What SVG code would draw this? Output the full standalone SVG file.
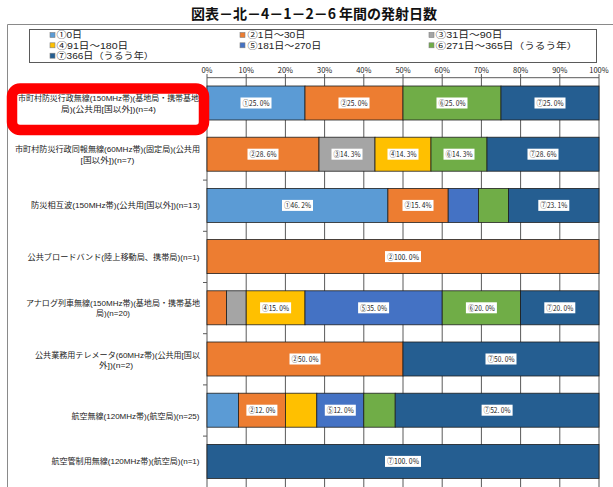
<svg xmlns="http://www.w3.org/2000/svg" width="613" height="487" viewBox="0 0 613 487">
<style>
text{font-family:"Noto Sans CJK JP","Noto Sans",sans-serif;fill:#222}
.title{font-size:14px;font-weight:bold;fill:#111}
.leg{font-family:"Liberation Sans","Noto Sans CJK JP",sans-serif;font-size:8.8px}
.ax{font-size:7.5px;text-anchor:middle}
.cat,.catr{font-family:"Liberation Sans","Noto Sans CJK JP",sans-serif;font-size:8px}
.cat{text-anchor:middle}
.catr{text-anchor:end}
.val{font-size:8px;text-anchor:middle}
.grid{stroke:#5a5a5a;stroke-width:1}
.seg{stroke:#1e1e1e;stroke-width:0.8}
.c1{fill:#5B9BD5}.c2{fill:#ED7D31}.c3{fill:#A5A5A5}.c4{fill:#FFC000}.c5{fill:#4472C4}.c6{fill:#70AD47}.c7{fill:#255E91}
.lb{fill:#fff}
.mk{stroke:#7f7f7f;stroke-width:0.6}
</style>
<rect width="613" height="487" fill="#fff"/>
<text class="title" x="314" y="19" text-anchor="middle">図表－北－4－1－2－6 年間の発射日数</text>
<path d="M7.5 487V24.5H613" fill="none" stroke="#8a8a8a" stroke-width="1"/>
<g id="legend">
<rect x="29.5" y="29.5" width="567" height="33" fill="#fff" stroke="#5a5a5a" stroke-width="1"/>
<rect class="mk c1" x="50" y="32.5" width="5" height="5"/><text class="leg" x="56.5" y="38.2" textLength="25.6" lengthAdjust="spacingAndGlyphs">①0日</text>
<rect class="mk c2" x="240" y="32.5" width="5" height="5"/><text class="leg" x="247.5" y="38.2" textLength="58" lengthAdjust="spacingAndGlyphs">②1日～30日</text>
<rect class="mk c3" x="429" y="32.5" width="5" height="5"/><text class="leg" x="435.5" y="38.2" textLength="67" lengthAdjust="spacingAndGlyphs">③31日～90日</text>
<rect class="mk c4" x="50" y="42.8" width="5" height="5"/><text class="leg" x="56.5" y="48.6" textLength="71.7" lengthAdjust="spacingAndGlyphs">④91日～180日</text>
<rect class="mk c5" x="240" y="42.8" width="5" height="5"/><text class="leg" x="247.5" y="48.6" textLength="73.7" lengthAdjust="spacingAndGlyphs">⑤181日～270日</text>
<rect class="mk c6" x="429" y="42.8" width="5" height="5"/><text class="leg" x="435.5" y="48.6" textLength="141.8" lengthAdjust="spacingAndGlyphs">⑥271日～365日（うるう年）</text>
<rect class="mk c7" x="50" y="53.2" width="5" height="5"/><text class="leg" x="56.5" y="59" textLength="97.3" lengthAdjust="spacingAndGlyphs">⑦366日（うるう年）</text>
</g>
<g id="axis">
<text class="ax" x="207" y="73">0%</text>
<text class="ax" x="246.2" y="73">10%</text>
<text class="ax" x="285.4" y="73">20%</text>
<text class="ax" x="324.6" y="73">30%</text>
<text class="ax" x="363.8" y="73">40%</text>
<text class="ax" x="403" y="73">50%</text>
<text class="ax" x="442.2" y="73">60%</text>
<text class="ax" x="481.4" y="73">70%</text>
<text class="ax" x="520.6" y="73">80%</text>
<text class="ax" x="559.8" y="73">90%</text>
<text class="ax" x="599" y="73">100%</text>
<path class="grid" fill="none" d="M207 74V487M246.2 74V487M285.4 74V487M324.6 74V487M363.8 74V487M403 74V487M442.2 74V487M481.4 74V487M520.6 74V487M559.8 74V487M599 74V487M207 77.7H599M203 128.9H207M203 180.1H207M203 231.3H207M203 282.5H207M203 333.7H207M203 384.9H207M203 436.1H207"/>
</g>
<g id="labels">
<text class="cat" x="108.5" y="101" textLength="181" lengthAdjust="spacingAndGlyphs">市町村防災行政無線(150MHz帯)(基地局・携帯基地</text>
<text class="cat" x="108.5" y="112" textLength="95" lengthAdjust="spacingAndGlyphs">局)(公共用[国以外])(n=4)</text>
<text class="cat" x="107.5" y="152" textLength="185" lengthAdjust="spacingAndGlyphs">市町村防災行政同報無線(60MHz帯)(固定局)(公共用</text>
<text class="cat" x="107.5" y="162.5" textLength="54" lengthAdjust="spacingAndGlyphs">[国以外])(n=7)</text>
<text class="catr" x="200" y="208" textLength="169" lengthAdjust="spacingAndGlyphs">防災相互波(150MHz帯)(公共用[国以外])(n=13)</text>
<text class="catr" x="199.5" y="259.5" textLength="172" lengthAdjust="spacingAndGlyphs">公共ブロードバンド(陸上移動局、携帯局)(n=1)</text>
<text class="cat" x="113" y="305.5" textLength="174" lengthAdjust="spacingAndGlyphs">アナログ列車無線(150MHz帯)(基地局・携帯基地</text>
<text class="cat" x="113" y="316" textLength="34" lengthAdjust="spacingAndGlyphs">局)(n=20)</text>
<text class="cat" x="117.5" y="357.5" textLength="165" lengthAdjust="spacingAndGlyphs">公共業務用テレメータ(60MHz帯)(公共用[国以</text>
<text class="cat" x="116" y="368" textLength="34" lengthAdjust="spacingAndGlyphs">外])(n=2)</text>
<text class="catr" x="199.5" y="419" textLength="128" lengthAdjust="spacingAndGlyphs">航空無線(120MHz帯)(航空局)(n=25)</text>
<text class="catr" x="199.5" y="463.5" textLength="148" lengthAdjust="spacingAndGlyphs">航空管制用無線(120MHz帯)(航空局)(n=1)</text>
</g>
<g id="row1">
<rect class="seg c1" x="207" y="86" width="98" height="34"/>
<rect class="seg c2" x="305" y="86" width="98" height="34"/>
<rect class="seg c6" x="403" y="86" width="98" height="34"/>
<rect class="seg c7" x="501" y="86" width="98" height="34"/>
<rect class="lb" x="240.5" y="97.5" width="31" height="11"/><text class="val" x="256" y="106" textLength="27" lengthAdjust="spacingAndGlyphs">①25. 0%</text>
<rect class="lb" x="338.5" y="97.5" width="31" height="11"/><text class="val" x="354" y="106" textLength="27" lengthAdjust="spacingAndGlyphs">②25. 0%</text>
<rect class="lb" x="436.5" y="97.5" width="31" height="11"/><text class="val" x="452" y="106" textLength="27" lengthAdjust="spacingAndGlyphs">⑥25. 0%</text>
<rect class="lb" x="534.5" y="97.5" width="31" height="11"/><text class="val" x="550" y="106" textLength="27" lengthAdjust="spacingAndGlyphs">⑦25. 0%</text>
</g>
<g id="row2">
<rect class="seg c2" x="207" y="137.2" width="112" height="34"/>
<rect class="seg c3" x="319" y="137.2" width="56" height="34"/>
<rect class="seg c4" x="375" y="137.2" width="56" height="34"/>
<rect class="seg c6" x="431" y="137.2" width="56" height="34"/>
<rect class="seg c7" x="487" y="137.2" width="112" height="34"/>
<rect class="lb" x="247.5" y="148.7" width="31" height="11"/><text class="val" x="263" y="157.2" textLength="27" lengthAdjust="spacingAndGlyphs">②28. 6%</text>
<rect class="lb" x="331.5" y="148.7" width="31" height="11"/><text class="val" x="347" y="157.2" textLength="27" lengthAdjust="spacingAndGlyphs">③14. 3%</text>
<rect class="lb" x="387.5" y="148.7" width="31" height="11"/><text class="val" x="403" y="157.2" textLength="27" lengthAdjust="spacingAndGlyphs">④14. 3%</text>
<rect class="lb" x="443.5" y="148.7" width="31" height="11"/><text class="val" x="459" y="157.2" textLength="27" lengthAdjust="spacingAndGlyphs">⑥14. 3%</text>
<rect class="lb" x="527.5" y="148.7" width="31" height="11"/><text class="val" x="543" y="157.2" textLength="27" lengthAdjust="spacingAndGlyphs">⑦28. 6%</text>
</g>
<g id="row3">
<rect class="seg c1" x="207" y="188.4" width="180.9" height="34"/>
<rect class="seg c2" x="387.9" y="188.4" width="60.3" height="34"/>
<rect class="seg c5" x="448.2" y="188.4" width="30.2" height="34"/>
<rect class="seg c6" x="478.4" y="188.4" width="30.1" height="34"/>
<rect class="seg c7" x="508.5" y="188.4" width="90.5" height="34"/>
<rect class="lb" x="282" y="199.9" width="31" height="11"/><text class="val" x="297.5" y="208.4" textLength="27" lengthAdjust="spacingAndGlyphs">①46. 2%</text>
<rect class="lb" x="402.5" y="199.9" width="31" height="11"/><text class="val" x="418" y="208.4" textLength="27" lengthAdjust="spacingAndGlyphs">②15. 4%</text>
<rect class="lb" x="538.3" y="199.9" width="31" height="11"/><text class="val" x="553.8" y="208.4" textLength="27" lengthAdjust="spacingAndGlyphs">⑦23. 1%</text>
</g>
<g id="row4">
<rect class="seg c2" x="207" y="239.6" width="392" height="34"/>
<rect class="lb" x="385" y="251.1" width="36" height="11"/><text class="val" x="403" y="259.6" textLength="32" lengthAdjust="spacingAndGlyphs">②100. 0%</text>
</g>
<g id="row5">
<rect class="seg c2" x="207" y="290.8" width="19.6" height="34"/>
<rect class="seg c3" x="226.6" y="290.8" width="19.6" height="34"/>
<rect class="seg c4" x="246.2" y="290.8" width="58.8" height="34"/>
<rect class="seg c5" x="305" y="290.8" width="137.2" height="34"/>
<rect class="seg c6" x="442.2" y="290.8" width="78.4" height="34"/>
<rect class="seg c7" x="520.6" y="290.8" width="78.4" height="34"/>
<rect class="lb" x="260.1" y="302.3" width="31" height="11"/><text class="val" x="275.6" y="310.8" textLength="27" lengthAdjust="spacingAndGlyphs">④15. 0%</text>
<rect class="lb" x="358.1" y="302.3" width="31" height="11"/><text class="val" x="373.6" y="310.8" textLength="27" lengthAdjust="spacingAndGlyphs">⑤35. 0%</text>
<rect class="lb" x="465.9" y="302.3" width="31" height="11"/><text class="val" x="481.4" y="310.8" textLength="27" lengthAdjust="spacingAndGlyphs">⑥20. 0%</text>
<rect class="lb" x="544.3" y="302.3" width="31" height="11"/><text class="val" x="559.8" y="310.8" textLength="27" lengthAdjust="spacingAndGlyphs">⑦20. 0%</text>
</g>
<g id="row6">
<rect class="seg c2" x="207" y="342" width="196" height="34"/>
<rect class="seg c7" x="403" y="342" width="196" height="34"/>
<rect class="lb" x="289.5" y="353.5" width="31" height="11"/><text class="val" x="305" y="362" textLength="27" lengthAdjust="spacingAndGlyphs">②50. 0%</text>
<rect class="lb" x="485.5" y="353.5" width="31" height="11"/><text class="val" x="501" y="362" textLength="27" lengthAdjust="spacingAndGlyphs">⑦50. 0%</text>
</g>
<g id="row7">
<rect class="seg c1" x="207" y="393.2" width="31.4" height="34"/>
<rect class="seg c2" x="238.4" y="393.2" width="47" height="34"/>
<rect class="seg c4" x="285.4" y="393.2" width="31.4" height="34"/>
<rect class="seg c5" x="316.8" y="393.2" width="47" height="34"/>
<rect class="seg c6" x="363.8" y="393.2" width="31.4" height="34"/>
<rect class="seg c7" x="395.2" y="393.2" width="203.8" height="34"/>
<rect class="lb" x="246.4" y="404.7" width="31" height="11"/><text class="val" x="261.9" y="413.2" textLength="27" lengthAdjust="spacingAndGlyphs">②12. 0%</text>
<rect class="lb" x="324.8" y="404.7" width="31" height="11"/><text class="val" x="340.3" y="413.2" textLength="27" lengthAdjust="spacingAndGlyphs">⑤12. 0%</text>
<rect class="lb" x="481.6" y="404.7" width="31" height="11"/><text class="val" x="497.1" y="413.2" textLength="27" lengthAdjust="spacingAndGlyphs">⑦52. 0%</text>
</g>
<g id="row8">
<rect class="seg c7" x="207" y="444.4" width="392" height="34"/>
<rect class="lb" x="385" y="455.9" width="36" height="11"/><text class="val" x="403" y="464.4" textLength="32" lengthAdjust="spacingAndGlyphs">⑦100. 0%</text>
</g>
<g id="highlight">
<rect x="12" y="88.5" width="192" height="41.5" rx="8" ry="8" fill="none" stroke="#ff0000" stroke-width="10.5"/>
</g>
</svg>
